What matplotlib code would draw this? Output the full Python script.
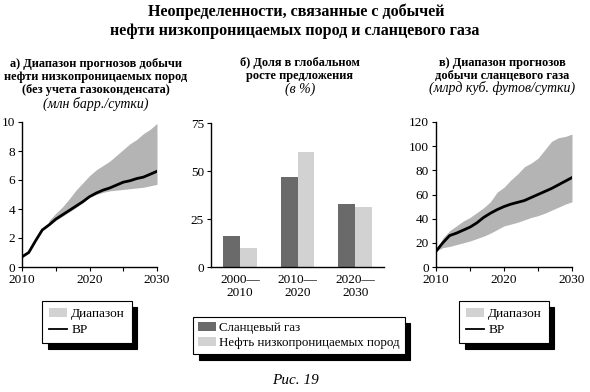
import matplotlib
matplotlib.use("Agg")
import matplotlib.pyplot as plt
from matplotlib.patches import Patch
from matplotlib.lines import Line2D

plt.rcParams['font.family'] = ['Liberation Serif', 'DejaVu Serif']

# ---------- data ----------
years = list(range(2010, 2031))

# a) tight oil (mb/d)
oil_bp = [0.7, 1.0, 1.8, 2.55, 2.9, 3.3, 3.6, 3.9, 4.2, 4.5, 4.85,
          5.1, 5.3, 5.45, 5.65, 5.85, 5.95, 6.1, 6.2, 6.4, 6.6]
oil_range_years = list(range(2014, 2031))
oil_low = [2.85, 3.2, 3.5, 3.8, 4.1, 4.45, 4.8, 5.0, 5.15, 5.25, 5.3,
           5.35, 5.4, 5.45, 5.5, 5.6, 5.7]
oil_high = [3.2, 3.7, 4.15, 4.7, 5.3, 5.8, 6.3, 6.7, 7.0, 7.3, 7.7,
            8.1, 8.5, 8.8, 9.2, 9.5, 9.9]

# б) share of global supply growth (%)
periods = ["2000—\n2010", "2010—\n2020", "2020—\n2030"]
shale_gas = [16, 47, 33]
tight_oil = [10, 60, 31]

# в) shale gas (bcf/d)
gas_bp = [13, 20, 26, 28, 30.5, 33, 36.5, 41, 44.5, 47.5, 50,
          52, 53.5, 55, 57.5, 60, 62.5, 65, 68, 71, 74]
gas_low = [13, 16, 17, 18.5, 20, 21.5, 23.5, 25.5, 28, 31, 34,
           35.5, 37, 39, 41, 42.5, 44.5, 47, 49.5, 52, 54]
gas_high = [13, 24, 30, 34, 38, 41, 45, 49, 54, 62, 66,
            72, 77, 83, 86, 90, 97, 104, 107, 108, 110]

# ---------- style ----------
W, H = 590, 392
fig = plt.figure(figsize=(W / 100, H / 100), dpi=100)

FILL = '#b4b4b4'
FILL_LEG = '#d2d2d2'
DARK = '#6a6a6a'
LIGHT = '#d2d2d2'
TICK_FS = 9.5
SUB_FS = 8.9
IT_FS = 10
LEG_FS = 9.6


def ax_rect(x0, x1, ytop, ybot):
    return [x0 / W, 1 - ybot / H, (x1 - x0) / W, (ybot - ytop) / H]


def style(ax):
    for s in ('top', 'right'):
        ax.spines[s].set_visible(False)
    for s in ('left', 'bottom'):
        ax.spines[s].set_linewidth(1.0)
        ax.spines[s].set_color('black')
    ax.tick_params(direction='out', length=3, width=0.8, labelsize=TICK_FS, pad=2)


# a)
ax1 = fig.add_axes(ax_rect(22, 157, 122, 267))
ax1.fill_between(oil_range_years, oil_low, oil_high, color=FILL, lw=0)
ax1.plot(years, oil_bp, color='black', lw=2)
ax1.set_xlim(2010, 2030)
ax1.set_ylim(0, 10)
ax1.set_yticks([0, 2, 4, 6, 8, 10])
ax1.set_xticks([2010, 2015, 2020, 2025, 2030])
ax1.set_xticklabels(['2010', '', '2020', '', '2030'])
style(ax1)

# б)
ax2 = fig.add_axes(ax_rect(211, 384, 123, 267))
bw = 0.29
xs = [0.5, 1.5, 2.5]
ax2.bar([x - bw / 2 for x in xs], shale_gas, width=bw, color=DARK)
ax2.bar([x + bw / 2 for x in xs], tight_oil, width=bw, color=LIGHT)
ax2.set_xlim(0, 3)
ax2.set_ylim(0, 75)
ax2.set_yticks([0, 25, 50, 75])
ax2.set_xticks(xs)
ax2.set_xticklabels(periods, linespacing=1.1)
style(ax2)
ax2.tick_params(axis='x', length=0, pad=5)

# в)
ax3 = fig.add_axes(ax_rect(436, 572, 122, 267))
ax3.fill_between(years, gas_low, gas_high, color=FILL, lw=0)
ax3.plot(years, gas_bp, color='black', lw=2)
ax3.set_xlim(2010, 2030)
ax3.set_ylim(0, 120)
ax3.set_yticks(range(0, 121, 20))
ax3.set_xticks([2010, 2015, 2020, 2025, 2030])
ax3.set_xticklabels(['2010', '', '2020', '', '2030'])
style(ax3)

# ---------- texts ----------
fig.text(296 / W, 1 - 12 / H, "Неопределенности, связанные с добычей",
         ha='center', va='center', fontsize=11.6, fontweight='bold')
fig.text(295 / W, 1 - 31 / H, "нефти низкопроницаемых пород и сланцевого газа",
         ha='center', va='center', fontsize=11.6, fontweight='bold')


def sub(xc, lines):
    for y, txt, italic in lines:
        fig.text(xc / W, 1 - y / H, txt, ha='center', va='center',
                 fontsize=IT_FS if italic else SUB_FS,
                 fontweight='normal' if italic else 'bold',
                 style='italic' if italic else 'normal')


sub(96, [(64, "а) Диапазон прогнозов добычи", False),
         (77, "нефти низкопроницаемых пород", False),
         (90, "(без учета газоконденсата)", False),
         (104, "(млн барр./сутки)", True)])
sub(300, [(63, "б) Доля в глобальном", False),
          (76, "росте предложения", False),
          (89, "(в %)", True)])
sub(502, [(63, "в) Диапазон прогнозов", False),
          (76, "добычи сланцевого газа", False),
          (88, "(млрд куб. футов/сутки)", True)])

fig.text(295 / W, 1 - 381 / H, "Рис. 19", ha='center', va='center',
         fontsize=11, style='italic')

# ---------- legends ----------
shadow = {'ox': 4, 'oy': -4, 'color': 'black', 'alpha': 1}
leg_kw = dict(frameon=True, fancybox=False, shadow=shadow, fontsize=LEG_FS,
              handlelength=1.4, handletextpad=0.3, borderpad=0.5,
              labelspacing=0.3, borderaxespad=0, loc='upper left')

h_range = [Patch(facecolor=FILL_LEG, edgecolor='none'),
           Line2D([], [], color='black', lw=1.3)]
lab_range = ["Диапазон", "BP"]

l1 = fig.legend(h_range, lab_range, bbox_to_anchor=(42 / W, 1 - 301 / H), **leg_kw)
l2 = fig.legend([Patch(facecolor=DARK, edgecolor='none'),
                 Patch(facecolor=LIGHT, edgecolor='none')],
                ["Сланцевый газ", "Нефть низкопроницаемых пород"],
                bbox_to_anchor=(193 / W, 1 - 317 / H),
                **{**leg_kw, 'borderpad': 0.35, 'fontsize': 9.3})
l3 = fig.legend(h_range, lab_range, bbox_to_anchor=(459 / W, 1 - 301 / H), **leg_kw)
for lg in (l1, l2, l3):
    f = lg.get_frame()
    f.set_edgecolor('black')
    f.set_linewidth(0.8)

fig.savefig("out.png", dpi=100)
